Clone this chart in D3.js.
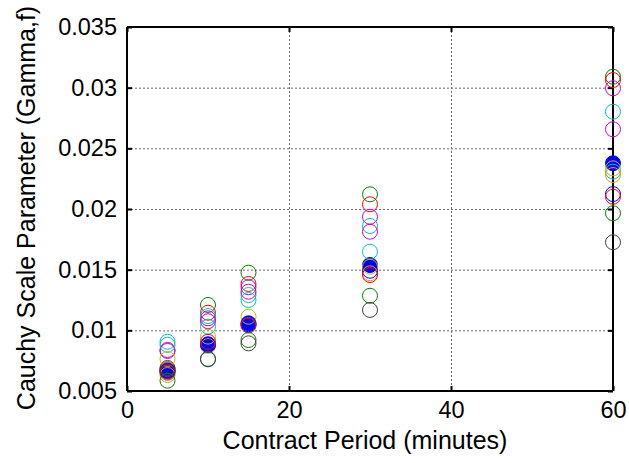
<!DOCTYPE html>
<html>
<head>
<meta charset="utf-8">
<script src="https://cdn.jsdelivr.net/npm/d3@7"></script>
<style>
  html, body { margin: 0; padding: 0; background: #fff; }
  svg { display: block; font-family: "Liberation Sans", Arial, sans-serif; }
</style>
</head>
<body>
<svg id="chart" width="629" height="463"></svg>
<script>
// Contract periods (minutes) at which the scale parameter was estimated
const periods = [5, 10, 15, 30, 60];

// Open-circle series, one estimate per contract period
const seriesNames  = ["G1", "R1", "M1", "C1", "M2", "C2", "Y1", "Y2", "B", "R2", "G2", "K"];
const seriesColors = ["#008000", "#ff0000", "#cc00cc", "#00bfbf", "#cc00cc", "#00bfbf",
                      "#bfbf00", "#e0a000", "#0000ff", "#ff0000", "#008000", "#404040"];
const G1 = [0.0069,  0.01209, 0.01475, 0.02121, 0.0309];
const R1 = [0.0068,  0.01145, 0.01382, 0.02039, 0.03063];
const M1 = [0.00838, 0.01099, 0.01355, 0.01936, 0.02995];
const C1 = [0.00906, 0.01118, 0.01291, 0.0186,  0.02802];
const M2 = [0.0083,  0.01075, 0.01318, 0.01813, 0.02657];
const C2 = [0.0088,  0.0103,  0.0125,  0.01648, 0.02308];
const Y1 = [0.00764, 0.00948, 0.01112, 0.01524, 0.02335];
const Y2 = [0.00632, 0.00871, 0.01044, 0.0147,  0.0228];
const B  = [0.0067,  0.0088,  0.0105,  0.01491, 0.02123];
const R2 = [0.00651, 0.00906, 0.0104,  0.01456, 0.02101];
const G2 = [0.00585, 0.00761, 0.0092,  0.01285, 0.01965];
const K  = [0.0066,  0.00765, 0.00893, 0.01168, 0.01726];
const seriesValues = [G1, R1, M1, C1, M2, C2, Y1, Y2, B, R2, G2, K];

// Filled summary estimate per contract period
const summary = [0.00665, 0.00885, 0.01058, 0.01538, 0.02377];

const xTicks = [0, 20, 40, 60];
const yTicks = [0.005, 0.01, 0.015, 0.02, 0.025, 0.03, 0.035];

const svg = d3.select("#chart");
const margin = { left: 127, top: 27, right: 16, bottom: 72 };
const W = 629, H = 463;
const x = d3.scaleLinear().domain([0, 60]).range([margin.left, W - margin.right]);
const y = d3.scaleLinear().domain([0.005, 0.035]).range([H - margin.bottom, margin.top]);

const x0 = x.range()[0], x1 = x.range()[1];
const y0 = y.range()[0], y1 = y.range()[1];

// Dotted grid
const grid = svg.append("g").attr("stroke", "#444").attr("stroke-width", 1)
  .attr("stroke-dasharray", "2,2").attr("opacity", 0.8);
grid.selectAll("line.gx").data(xTicks.slice(1, -1)).join("line")
  .attr("x1", d => x(d) + 0.5).attr("x2", d => x(d) + 0.5)
  .attr("y1", y1).attr("y2", y0);
grid.selectAll("line.gy").data(yTicks.slice(1, -1)).join("line")
  .attr("x1", x0).attr("x2", x1)
  .attr("y1", d => y(d) + 0.5).attr("y2", d => y(d) + 0.5);

// Axes with inward ticks (box on all sides)
const fmtY = d => d3.format("")(+d.toFixed(3));
const axL = svg.append("g").attr("transform", `translate(${x0},0)`)
  .call(d3.axisLeft(y).tickValues(yTicks).tickSize(-5).tickPadding(10).tickFormat(fmtY));
const axB = svg.append("g").attr("transform", `translate(0,${y0})`)
  .call(d3.axisBottom(x).tickValues(xTicks).tickSize(-5).tickPadding(10).tickFormat(d3.format("d")));
const axR = svg.append("g").attr("transform", `translate(${x1},0)`)
  .call(d3.axisRight(y).tickValues(yTicks).tickSize(-5).tickFormat(""));
const axT = svg.append("g").attr("transform", `translate(0,${y1})`)
  .call(d3.axisTop(x).tickValues(xTicks).tickSize(-5).tickFormat(""));

[axL, axB, axR, axT].forEach(a => {
  a.select(".domain").attr("stroke", "#000").attr("stroke-width", 2);
  a.selectAll(".tick line").attr("stroke", "#000").attr("stroke-width", 2);
  a.selectAll(".tick text").attr("fill", "#000").attr("font-size", 23.5)
    .attr("font-family", "'Liberation Sans', Arial, sans-serif");
});
axL.select(".domain").attr("d", `M0,${y0}V${y1}`);
axR.select(".domain").attr("d", `M0,${y0}V${y1}`);
axB.select(".domain").attr("d", `M${x0},0H${x1}`);
axT.select(".domain").attr("d", `M${x0},0H${x1}`);

// Markers
const plot = svg.append("g");
plot.selectAll("circle.summary").data(summary).join("circle")
  .attr("class", "summary")
  .attr("cx", (d, i) => x(periods[i])).attr("cy", d => y(d))
  .attr("r", 7.5).attr("fill", "#0000ff").attr("stroke", "#0000ff").attr("stroke-width", 1);

seriesValues.forEach((vals, s) => {
  plot.append("g").selectAll("circle").data(vals).join("circle")
    .attr("cx", (d, i) => x(periods[i])).attr("cy", d => y(d))
    .attr("r", 7.5).attr("fill", "none")
    .attr("stroke", seriesColors[s]).attr("stroke-width", 1);
});

// Axis titles
svg.append("text").attr("x", (x0 + x1) / 2 - 5).attr("y", 449)
  .attr("text-anchor", "middle").attr("font-size", 25).text("Contract Period (minutes)");
svg.append("text").attr("transform", `translate(35,${(y0 + y1) / 2 - 1}) rotate(-90)`)
  .attr("text-anchor", "middle").attr("font-size", 25).text("Cauchy Scale Parameter (Gamma,f)");
</script>
</body>
</html>
